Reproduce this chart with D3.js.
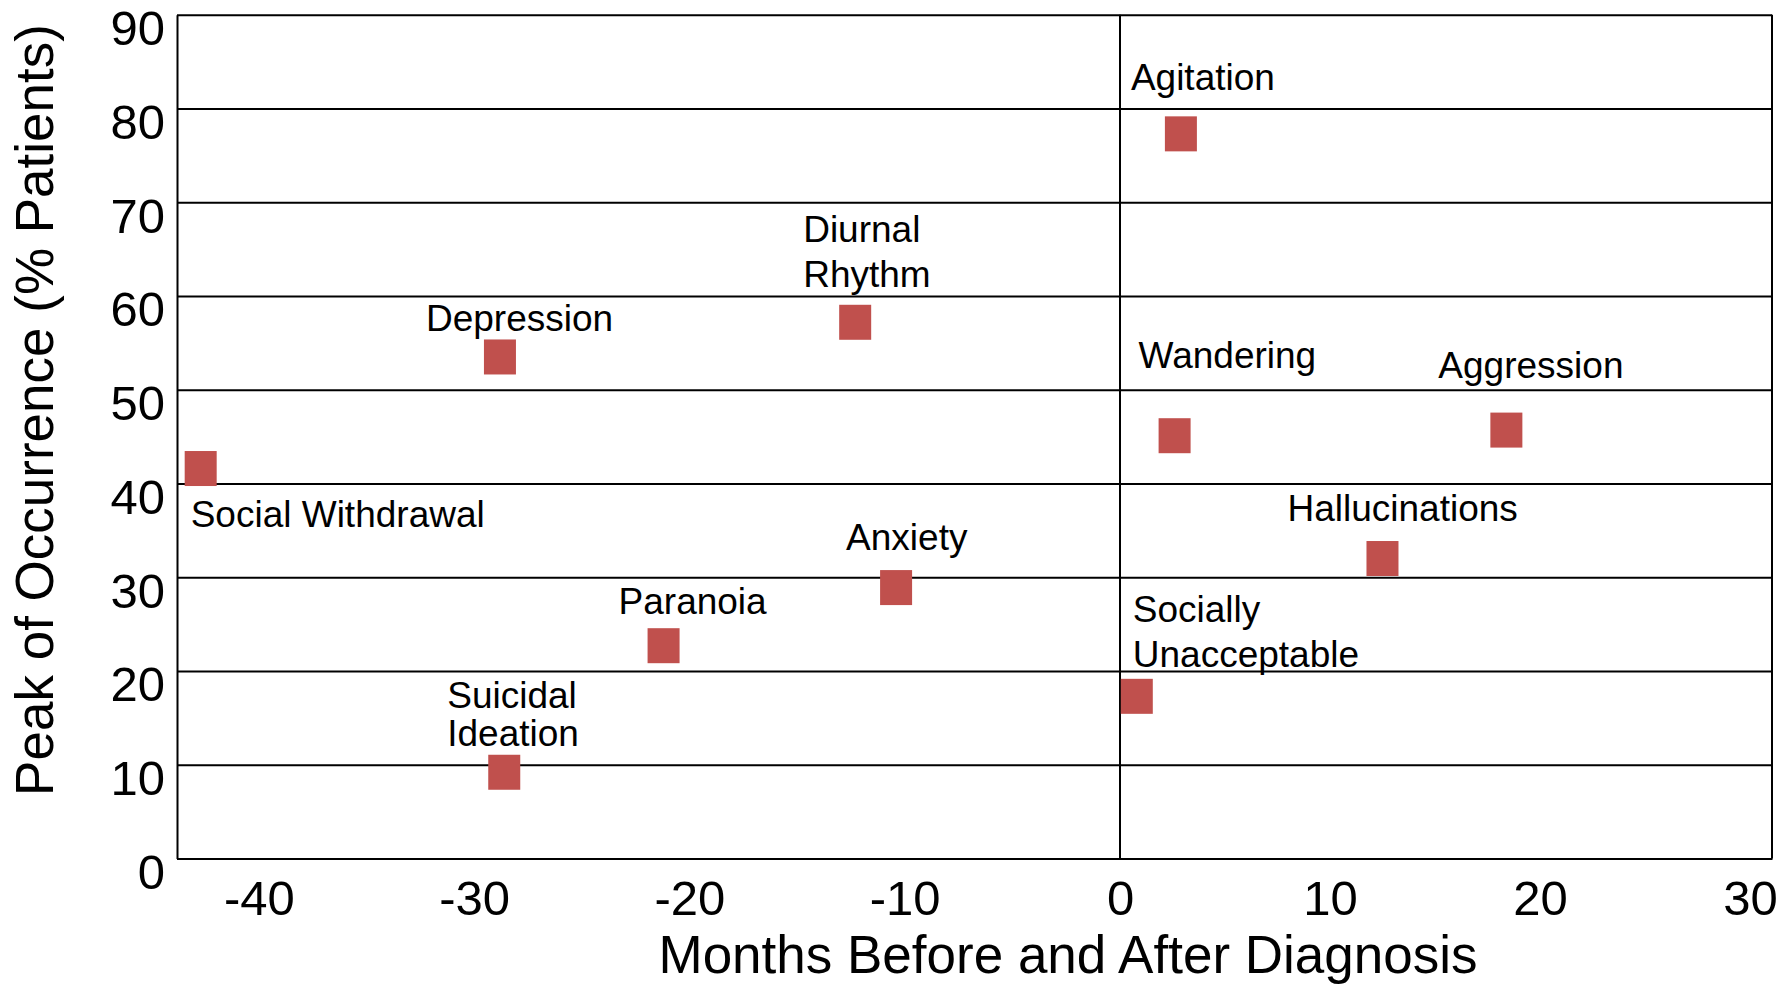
<!DOCTYPE html>
<html>
<head>
<meta charset="utf-8">
<script src="https://cdn.jsdelivr.net/npm/d3@7"></script>
<style>
  body { margin: 0; background: #fff; }
  svg { display: block; font-family: "Liberation Sans", Arial, sans-serif; }
</style>
</head>
<body>
<div id="scatter"></div>
<script>

// Chart data
const symptoms = [
  ["Social Withdrawal"],
  ["Depression"],
  ["Diurnal", "Rhythm"],
  ["Agitation"],
  ["Wandering"],
  ["Aggression"],
  ["Hallucinations"],
  ["Anxiety"],
  ["Paranoia"],
  ["Socially", "Unacceptable"],
  ["Suicidal", "Ideation"]
];
const months  = [-42.7, -28.8, -12.3, 2.9, 2.6, 18.4, 12.5, -10.4, -21.2, 0.8, -28.6];
const peakPct = [41.6, 53.5, 57.2, 77.3, 45.1, 45.7, 32.0, 28.9, 22.7, 17.3, 9.2];
const xTicks = [-40, -30, -20, -10, 0, 10, 20, 30];
const yTicks = [0, 10, 20, 30, 40, 50, 60, 70, 80, 90];

// label placement relative to each marker: [dx, dy, line height]
const labelOffsets = [
  [-10, 58, 45], [-74, -26, 45], [-52, -80, 45], [-50, -44, 45],
  [-36, -68, 45], [-68, -52, 45], [-95, -38, 45], [-50, -38, 45],
  [-45, -32, 45], [-4, -74, 44.6], [-57, -64, 37.3]
];

// Set dimensions and margins for plot
const width = 1784;
const height = 984;
const margin = {left: 177, right: 12, bottom: 125.5, top: 14.8};
const markerW = 32, markerH = 35;
const red = "#C0504D";

const svg = d3
  .select("#scatter")
  .append("svg")
  .attr("width", width)
  .attr("height", height)
  .attr("viewBox", [0, 0, width, height]);

const data = symptoms.map((lines, i) => ({lines: lines, month: months[i], pct: peakPct[i], off: labelOffsets[i]}));

/*
  Axes
*/

// the original figure squeezes the months after diagnosis a little,
// so the scale has a break point at 0
let xScale = d3.scaleLinear()
  .domain([-43.8, 0, 31.05])
  .range([margin.left, 1120, width - margin.right]);

let yScale = d3.scaleLinear()
  .domain([0, 90])
  .range([height - margin.bottom, margin.top]);

// left axis doubles as horizontal gridlines
const yAxis = svg.append("g")
  .attr("transform", `translate(${margin.left}, 0)`)
  .call(d3.axisLeft(yScale)
    .tickValues(yTicks)
    .tickSize(-(width - margin.left - margin.right))
    .tickSizeOuter(0)
    .tickPadding(12)
    .tickFormat(d => String(d)));
yAxis.selectAll("line, path").attr("stroke", "#000").attr("stroke-width", 2);
yAxis.selectAll("text")
  .attr("font-size", "49px")
  .attr("font-family", "Liberation Sans, Arial, sans-serif")
  .attr("fill", "#000")
  .attr("dy", "0.61em");

const xAxis = svg.append("g")
  .attr("transform", `translate(0, ${height - margin.bottom})`)
  .call(d3.axisBottom(xScale)
    .tickValues(xTicks)
    .tickSize(0)
    .tickPadding(21.5)
    .tickFormat(d => String(d)));
xAxis.select(".domain").attr("stroke", "#000").attr("stroke-width", 2);
xAxis.selectAll("text")
  .attr("font-size", "49px")
  .attr("font-family", "Liberation Sans, Arial, sans-serif")
  .attr("fill", "#000");

// right frame edge and the diagnosis line at month 0
svg.append("line")
  .attr("x1", width - margin.right).attr("x2", width - margin.right)
  .attr("y1", yScale(0)).attr("y2", yScale(90))
  .attr("stroke", "#000").attr("stroke-width", 2);

svg.append("line")
  .attr("x1", xScale(0)).attr("x2", xScale(0))
  .attr("y1", yScale(0)).attr("y2", yScale(90))
  .attr("stroke", "#000").attr("stroke-width", 2);

// axis titles
svg.append("text")
  .attr("x", 1068)
  .attr("y", 973)
  .attr("text-anchor", "middle")
  .attr("font-size", "53px")
  .text("Months Before and After Diagnosis");

svg.append("text")
  .attr("transform", "translate(53, 410) rotate(-90)")
  .attr("text-anchor", "middle")
  .attr("font-size", "53px")
  .text("Peak of Occurrence (% Patients)");

/*
  Markers and labels
*/

svg.selectAll(".marker")
  .data(data)
  .enter()
  .append("rect")
    .attr("class", "marker")
    .attr("x", d => xScale(d.month) - markerW / 2)
    .attr("y", d => yScale(d.pct) - markerH / 2)
    .attr("width", markerW)
    .attr("height", markerH)
    .attr("fill", red);

const labels = svg.selectAll(".label")
  .data(data)
  .enter()
  .append("text")
    .attr("class", "label")
    .attr("font-size", "37px")
    .attr("fill", "#000");

labels.selectAll("tspan")
  .data(d => d.lines.map((t, j) => ({t: t, j: j, d: d})))
  .enter()
  .append("tspan")
    .attr("x", o => xScale(o.d.month) + o.d.off[0])
    .attr("y", o => yScale(o.d.pct) + o.d.off[1] + o.j * o.d.off[2])
    .text(o => o.t);

</script>
</body>
</html>
